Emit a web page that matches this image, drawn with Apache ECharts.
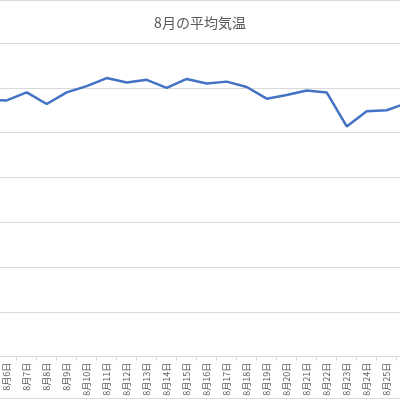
<!DOCTYPE html>
<html>
<head>
<meta charset="utf-8">
<script src="https://cdn.jsdelivr.net/npm/echarts@6/dist/echarts.min.js"></script>
<style>
  html, body { margin: 0; padding: 0; background: #fff; }
  #chart { width: 400px; height: 400px; }
</style>
</head>
<body>
<div id="chart"></div>
<script>
// 8月の平均気温 (表示範囲の前後1日ずつ含む)
const days = ['8月5日', '8月6日', '8月7日', '8月8日', '8月9日', '8月10日', '8月11日', '8月12日',
  '8月13日', '8月14日', '8月15日', '8月16日', '8月17日', '8月18日', '8月19日', '8月20日',
  '8月21日', '8月22日', '8月23日', '8月24日', '8月25日', '8月26日'];
const avgTemp = [28.7, 28.6, 29.5, 28.2, 29.5, 30.2, 31.1, 30.6, 30.9, 30.0, 31.0, 30.5,
  30.7, 30.1, 28.8, 29.2, 29.7, 29.5, 25.7, 27.4, 27.5, 28.3];
const yMin = 0;
const yMax = 40;
const yStep = 5;

const chart = echarts.init(document.getElementById('chart'));

const option = {
  animation: false,
  backgroundColor: '#fff',
  textStyle: { fontFamily: '"Noto Sans CJK JP", "Noto Sans", sans-serif' },
  title: {
    text: '8月の平均気温',
    left: 'center',
    top: 11,
    textStyle: {
      fontSize: 14,
      fontWeight: 'normal',
      color: '#595959',
      fontFamily: '"Noto Sans CJK JP", sans-serif'
    }
  },
  // 元の図は切り抜かれているので、プロット領域を画面の外まで広げる
  grid: {
    left: -23.3,
    right: -16.7,
    top: -1.7,
    bottom: 43.3,
    containLabel: false,
    outerBoundsMode: 'none'
  },
  xAxis: {
    type: 'category',
    data: days,
    boundaryGap: true,
    axisLine: { lineStyle: { color: '#d9d9d9', width: 1 } },
    axisTick: { show: true, length: 4, lineStyle: { color: '#d9d9d9' } },
    axisLabel: {
      interval: 0,
      rotate: 90,
      margin: 6,
      fontSize: 9,
      color: '#595959',
      fontFamily: '"Noto Sans CJK JP", sans-serif'
    }
  },
  yAxis: {
    type: 'value',
    min: yMin,
    max: yMax,
    interval: yStep,
    axisLine: { show: false },
    axisTick: { show: false },
    axisLabel: { show: false },
    splitLine: { lineStyle: { color: '#d9d9d9', width: 1 } }
  },
  series: [{
    type: 'line',
    data: avgTemp,
    symbol: 'none',
    lineStyle: { color: '#4472c4', width: 2.5 },
    itemStyle: { color: '#4472c4' }
  }],
  // グラフ枠の上下の線
  graphic: [{
    type: 'line',
    shape: { x1: 0, y1: 0.5, x2: 400, y2: 0.5 },
    style: { stroke: '#d9d9d9', lineWidth: 1 }
  }, {
    type: 'line',
    shape: { x1: 0, y1: 398.5, x2: 400, y2: 398.5 },
    style: { stroke: '#d9d9d9', lineWidth: 1 }
  }]
};

chart.setOption(option);
</script>
</body>
</html>
